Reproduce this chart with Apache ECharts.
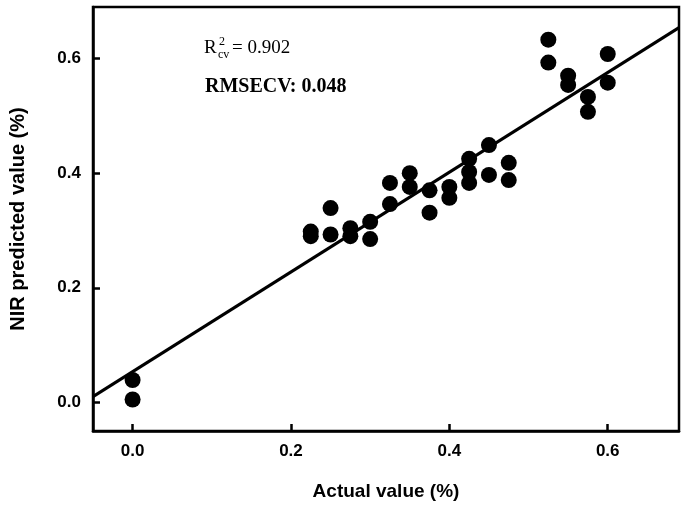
<!DOCTYPE html>
<html>
<head>
<meta charset="utf-8">
<script src="https://cdn.jsdelivr.net/npm/echarts@6/dist/echarts.min.js"></script>
<style>
  html, body { margin: 0; padding: 0; background: #fff; }
  #main { width: 687px; height: 507px; }
</style>
</head>
<body>
<div id="main"></div>
<script>
let actual = [
  0, 0,
  0.225, 0.225, 0.25, 0.25, 0.275, 0.275, 0.3, 0.3,
  0.325, 0.325, 0.35, 0.35, 0.375, 0.375, 0.4, 0.4,
  0.425, 0.425, 0.425, 0.45, 0.45, 0.475, 0.475,
  0.525, 0.525, 0.55, 0.55, 0.575, 0.575, 0.6, 0.6
];
let predicted = [
  0.039, 0.005,
  0.298, 0.290, 0.339, 0.293, 0.304, 0.290, 0.315, 0.285,
  0.383, 0.346, 0.400, 0.376, 0.370, 0.331, 0.376, 0.357,
  0.425, 0.402, 0.383, 0.449, 0.397, 0.418, 0.388,
  0.633, 0.593, 0.570, 0.554, 0.533, 0.507, 0.608, 0.558
];
// end points of the regression line
let fitX = [-0.05, 0.69];
let fitY = [0.010, 0.654];
let tickValues = [0, 0.2, 0.4, 0.6];

let points = actual.map((x, i) => [x, predicted[i]]);
let fitLine = fitX.map((x, i) => [x, fitY[i]]);

let myChart = echarts.init(document.getElementById("main"));

let axisCommon = {
  type: "value",
  min: -0.05,
  max: 0.69,
  nameLocation: "middle",
  nameTextStyle: {
    fontFamily: "Liberation Sans",
    fontWeight: "bold",
    fontSize: 19,
    color: "#000",
  },
  axisLine: { show: true, onZero: false, lineStyle: { color: "#000", width: 2.5 } },
  axisTick: {
    show: true,
    inside: true,
    length: 7,
    customValues: tickValues,
    lineStyle: { color: "#000", width: 2.5 },
  },
  axisLabel: {
    customValues: tickValues,
    formatter: (v) => v.toFixed(1),
    fontFamily: "Liberation Sans",
    fontWeight: "bold",
    fontSize: 17,
    color: "#000",
    margin: 12,
  },
  splitLine: { show: false },
};

let options = {
  animation: false,
  grid: {
    left: 92,
    right: 8,
    top: 7,
    bottom: 76,
    show: true,
    borderColor: "#000",
    borderWidth: 2.5,
  },
  xAxis: Object.assign({}, axisCommon, { name: "Actual value (%)", nameGap: 51 }),
  yAxis: Object.assign({}, axisCommon, {
    name: "NIR predicted value (%)",
    nameGap: 65,
    nameTextStyle: Object.assign({}, axisCommon.nameTextStyle, { fontSize: 20 }),
  }),
  graphic: [
    { type: "text", left: 204, top: 39, style: { text: "R", font: "19px 'Liberation Serif'", fill: "#000" } },
    { type: "text", left: 219, top: 36, style: { text: "2", font: "12px 'Liberation Serif'", fill: "#000" } },
    { type: "text", left: 218, top: 49, style: { text: "cv", font: "12px 'Liberation Serif'", fill: "#000" } },
    { type: "text", left: 232, top: 39, style: { text: "= 0.902", font: "19px 'Liberation Serif'", fill: "#000" } },
    { type: "text", left: 205, top: 77, style: { text: "RMSECV: 0.048", font: "bold 20px 'Liberation Serif'", fill: "#000" } },
  ],
  series: [
    {
      name: "fit",
      type: "line",
      data: fitLine,
      symbol: "none",
      lineStyle: { color: "#000", width: 3 },
      z: 2,
    },
    {
      name: "samples",
      type: "scatter",
      data: points,
      symbolSize: 16,
      itemStyle: { color: "#000", opacity: 1 },
      z: 3,
    },
  ],
};
myChart.setOption(options);
</script>
</body>
</html>
